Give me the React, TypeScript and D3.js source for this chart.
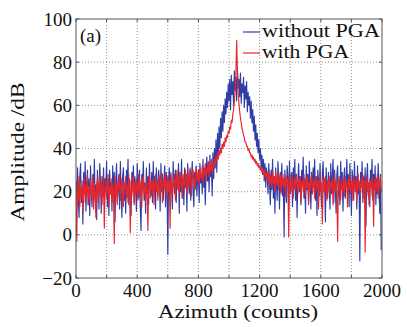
import React from "react";
import * as d3 from "d3";

const AZ_STEP = 5;
const X_TICKS = [0, 200, 400, 600, 800, 1000, 1200, 1400, 1600, 1800, 2000];
const X_LABELS = [0, 400, 800, 1200, 1600, 2000];
const Y_TICKS = [-20, 0, 20, 40, 60, 80, 100];
const SERIES_NAMES = ["without PGA", "with PGA"];

const withoutPGA = [
  25, 12, 31, 18, 8, 27, 33, 15, 22, 5, 29, 19, 34, 11, 24, 30, 14, 26, 9, 32,
  20, 13, 28, 17, 35, 16, 23, 7, 30, 21, 12, 33, 25, 10, 27, 18, 31, 14, 26, 22,
  34, 13, 26, 9, 30, 19, 24, 11, 32, 17, 29, 6, 25, 33, 15, 21, 28, 12, 34, 20,
  8, 27, 31, 16, 24, 10, 30, 22, 35, 14, 26, 18, 9, 29, 23, 32, 15, 27, 20, 11,
  33, 25, 17, 30, 13, 2, 28, 21, 34, 16, 24, 10, 31, 19, 27, 14, 33, 22, 18, 29,
  15, 34, 21, 27, 12, 31, 24, 18, 30, 26, 11, 33, 20, 28, 16, 25, 32, 13, 29, 22,
  -9, 26, 31, 17, 28, 21, 12, 34, 24, 19, 30, 15, 27, 23, 33, 10, 29, 20, 35, 17,
  26, 14, 31, 22, 28, 11, 33, 25, 19, 30, 16, 27, 34, 21, 13, 29, 24, 32, 18, 26,
  30, 15, 33, 24, 28, 19, 35, 22, 31, 14, 29, 36, 25, 33, 20, 37, 27, 32, 18, 38,
  26, 40, 31, 44, 29, 47, 36, 50, 40, 54, 45, 57, 48, 60, 52, 63,
  56, 66, 59, 70, 62, 72, 58, 74, 65, 71, 60, 76, 67, 73, 62, 77, 68, 72, 64, 75,
  61, 70, 66, 73, 59, 69, 63, 71, 57, 66, 60, 64, 54, 62, 52,
  58, 48, 55, 44, 51, 41, 47, 38, 44, 35, 40, 31, 37, 28, 35, 25, 33, 22, 31, 27,
  19, 33, 24, 14, 30, 21, 35, 17, 27, 10, 31, 23, 16, 34, 25, 12, 29, 20, 33, 18,
  26, -1, 30, 22, 15, 32, 27, 11, 34, 19, 24, 29, 13, 31, 21, 35, 16, 28, 8, 25,
  33, 20, 27, 14, 30, 23, 36, 17, 26, 10, 32, 21, 28, 15, 34, 24, 12, 29, 19, 31,
  22, 35, 16, 27, 9, 30, 25, 18, 33, 21, 13, 28, 34, 20, 26, 6, 31, 23, 17, 29,
  24, 12, 33, 19, 27, 35, 15, 30, 22, 10, 28, 32, 18, 25, 14, 34, 21, 29, 11, 26,
  31, 17, 24, 35, 20, 28, 13, 33, 23, 9, 30, 26, 16, 34, 21, 27, 12, 32, 19, 25,
  -12, 29, 22, 34, 15, 27, 20, 31, 4, 26, 33, 18, 24, 13, 30, 22, 35, 16, 28, 21,
  32, 14, 26, 19, 33, 23, 10, 28, -7,
];

const withPGA = [
  20, -3, 24, 16, 27, 13, 22, 18, 25, 11, 21, 26, 15, 23, 19, 28, 14, 22, 17, 25,
  21, 16, 27, 12, 24, 19, 8, 23, 26, 15, 22, 28, 18, 24, 14, 21, 27, 3, 20, 25,
  17, 23, 28, 13, 22, 19, 26, 15, 24, 20, -4, 27, 18, 23, 14, 25, 21, 28, 16, 22,
  26, 19, 13, 24, 21, 27, 17, 23, 15, 28, 20, 1, 25, 18, 22, 27, 14, 24, 19, 26,
  21, 16, 28, 22, 18, 25, 13, 24, 27, 19, 23, 15, 26, 20, 2, 24, 28, 17, 22, 25,
  19, 26, 14, 23, 28, 20, 24, 16, 27, 22, 18, 25, 29, 15, 23, 26, 21, 28, 17, 24,
  27, 20, 25, 3, 29, 22, 18, 26, 24, 28, 16, 25, 30, 21, 27, 19, 26, 29, 23, 17,
  28, 24, 21, 30, 26, 19, 29, 25, 22, 31, 27, 18, 28, 30, 24, 26, 21, 31, 28, 25,
  29, 23, 31, 27, 26, 32, 24, 30, 28, 33, 25, 31, 29, 34, 27, 32, 30, 35, 28, 33,
  31, 35, 33, 36, 34, 38, 35, 39, 37, 40, 38, 42, 40, 43, 41, 45,
  43, 46, 45, 48, 47, 50, 49, 53, 52, 56, 58, 62, 66, 74, 90, 76, 66, 61, 57, 54,
  52, 49, 48, 46, 45, 43, 43, 41, 41, 39, 40, 38, 38, 36, 37,
  35, 36, 34, 35, 33, 34, 32, 33, 31, 32, 30, 31, 29, 31, 28, 30, 27, 29, 26, 29,
  25, 29, 23, 28, 26, 22, 30, 24, 27, 20, 28, 25, 23, 29, 21, 26, 28, 19, 27, 24,
  22, 28, 25, 18, 27, 23, 26, -1, 24, 28, 20, 25, 27, 17, 23, 26, 21, 28, 24, 19,
  26, 22, 27, 15, 24, 25, 20, 28, 23, 18, 26, 22, 27, 14, 24, 21, 25, 28, 19, 23,
  26, 17, 24, 27, 21, 25, 12, 23, 28, 20, 24, 5, 22, 26, 19, 27, 23, 16, 25, 21,
  27, 18, 24, 22, 26, 14, 23, 28, 20, 25, 19, -3, 24, 27, 21, 16, 26, 23, 20, 25,
  18, 27, 22, 24, 13, 26, 21, 28, 19, 23, 25, 16, 27, 22, 20, 26, 15, 24, 28, 21,
  24, 19, 26, 22, 28, 17, 25, -8, 23, 27, 20, 24, 14, 26, 22, 25, 18, 27, 4, 23,
  26, 20, 24, 28, 17, 25, 22, 27, 20,
];

const W = 407;
const H = 327;
const M = { left: 76, right: 382, top: 19, bottom: 278 };
const FONT = "Liberation Serif";
const BLUE = "#2f3ea6";
const RED = "#e8252b";

export default function App() {
  const x = d3.scaleLinear().domain([0, 2000]).range([M.left, M.right]);
  const y = d3.scaleLinear().domain([-20, 100]).range([M.bottom, M.top]);
  const line = d3
    .line<number>()
    .x((_, i) => x(i * AZ_STEP))
    .y((d) => y(d));
  const txt = { fontFamily: FONT, fill: "#111" };

  return (
    <svg
      width={W}
      height={H}
      style={{ position: "absolute", left: 0, top: 0, background: "#fff", fontFamily: FONT }}
    >
      <defs>
        <clipPath id="plotclip">
          <rect x={M.left} y={M.top} width={M.right - M.left} height={M.bottom - M.top} />
        </clipPath>
      </defs>
      {X_TICKS.slice(1, -1).map((t) => (
        <line
          key={"gx" + t}
          x1={x(t)}
          x2={x(t)}
          y1={M.top}
          y2={M.bottom}
          stroke="#8a8a8a"
          strokeWidth={0.9}
          strokeDasharray="1,2"
        />
      ))}
      {Y_TICKS.slice(1, -1).map((t) => (
        <line
          key={"gy" + t}
          x1={M.left}
          x2={M.right}
          y1={y(t)}
          y2={y(t)}
          stroke="#8a8a8a"
          strokeWidth={0.9}
          strokeDasharray="1,2"
        />
      ))}
      <g clipPath="url(#plotclip)">
        <path d={line(withoutPGA) || ""} fill="none" stroke={BLUE} strokeWidth={1.15} strokeLinejoin="round" />
        <path d={line(withPGA) || ""} fill="none" stroke={RED} strokeWidth={1.15} strokeLinejoin="round" />
      </g>
      <rect
        x={M.left}
        y={M.top}
        width={M.right - M.left}
        height={M.bottom - M.top}
        fill="none"
        stroke="#555"
        strokeWidth={1}
      />
      {X_TICKS.map((t) => (
        <g key={"tx" + t}>
          <line x1={x(t)} x2={x(t)} y1={M.bottom} y2={M.bottom - 3} stroke="#555" />
          <line x1={x(t)} x2={x(t)} y1={M.top} y2={M.top + 3} stroke="#555" />
        </g>
      ))}
      {Y_TICKS.map((t) => (
        <g key={"ty" + t}>
          <line x1={M.left} x2={M.left + 3} y1={y(t)} y2={y(t)} stroke="#555" />
          <line x1={M.right} x2={M.right - 3} y1={y(t)} y2={y(t)} stroke="#555" />
        </g>
      ))}
      {X_LABELS.map((t) => (
        <text key={"lx" + t} x={x(t)} y={297} textAnchor="middle" fontSize={19} style={txt}>
          {t}
        </text>
      ))}
      {Y_TICKS.map((t) => (
        <text key={"ly" + t} x={72} y={y(t)} dy="0.35em" textAnchor="end" fontSize={19} style={txt}>
          {t < 0 ? "\u2212" + Math.abs(t) : t}
        </text>
      ))}
      <text x={238} y={318} textAnchor="middle" fontSize={19} style={txt} textLength={160} lengthAdjust="spacingAndGlyphs">
        Azimuth (counts)
      </text>
      <text
        transform={`translate(24,152) rotate(-90)`}
        textAnchor="middle"
        fontSize={19}
        style={txt}
        textLength={139}
        lengthAdjust="spacingAndGlyphs"
      >
        Amplitude /dB
      </text>
      <text x={80} y={42} fontSize={19} style={txt}>
        (a)
      </text>
      <line x1={243} x2={260} y1={32} y2={32} stroke={BLUE} strokeWidth={1.2} />
      <text x={262} y={37} fontSize={19} style={txt} textLength={118} lengthAdjust="spacingAndGlyphs">
        {SERIES_NAMES[0]}
      </text>
      <line x1={243} x2={260} y1={53} y2={53} stroke={RED} strokeWidth={1.2} />
      <text x={262} y={58} fontSize={19} style={txt} textLength={87} lengthAdjust="spacingAndGlyphs">
        {SERIES_NAMES[1]}
      </text>
    </svg>
  );
}
